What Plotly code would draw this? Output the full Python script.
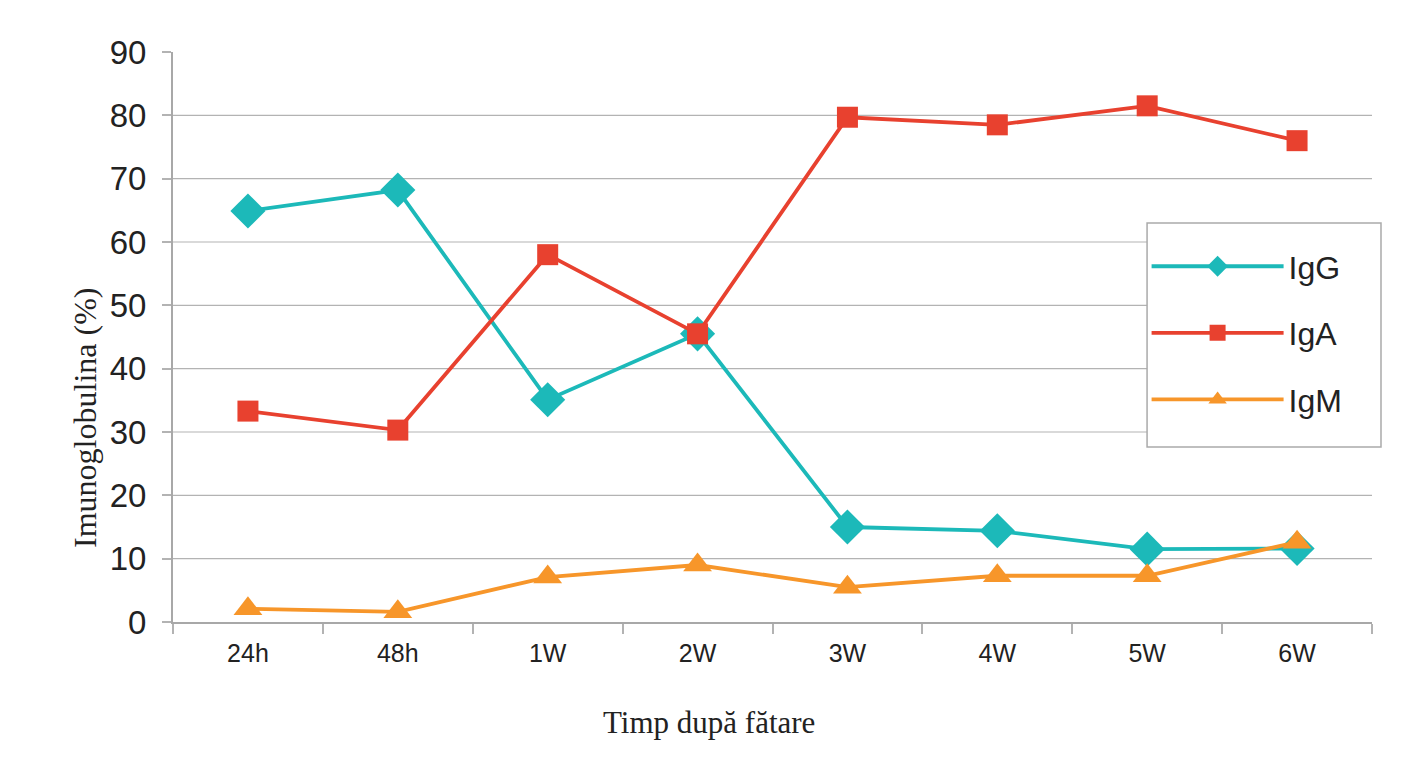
import plotly.graph_objects as go

categories = ["24h", "48h", "1W", "2W", "3W", "4W", "5W", "6W"]
igg = [64.9, 68.2, 35.1, 45.5, 15.0, 14.4, 11.5, 11.6]
iga = [33.3, 30.3, 58.0, 45.5, 79.7, 78.5, 81.5, 76.0]
igm = [2.1, 1.6, 7.1, 9.0, 5.5, 7.3, 7.3, 12.6]
y_ticks = [0, 10, 20, 30, 40, 50, 60, 70, 80, 90]
grid_values = [10, 20, 30, 40, 50, 60, 70, 80]

series = [
    ("IgG", igg, "#1cb9b9", "diamond", 27),
    ("IgA", iga, "#e8412f", "square", 21),
    ("IgM", igm, "#f7962a", "triangle-up", 25),
]

fig = go.Figure()
for name, vals, color, symbol, size in series:
    fig.add_trace(go.Scatter(
        x=categories, y=vals, name=name, mode="lines+markers", legendgroup=name,
        line=dict(color=color, width=3.8),
        marker=dict(symbol=symbol, size=size, color=color, line=dict(width=0)),
    ))

shapes = []
for g in grid_values:
    shapes.append(dict(type="line", xref="paper", yref="y", x0=0, x1=1, y0=g, y1=g,
                       line=dict(color="#b3b3b3", width=1.2), layer="below"))
# legend frame
shapes.append(dict(type="rect", xref="paper", yref="paper", x0=0.8124, x1=1.0075,
                   y0=0.307, y1=0.700, fillcolor="white",
                   line=dict(color="#aaaaaa", width=1.5), layer="above"))

tick_font = "Liberation Sans, Arial"
title_font = dict(family="Liberation Serif", size=31, color="#222222")

fig.update_layout(
    width=1412, height=766,
    margin=dict(l=165, r=48, t=44, b=152),
    paper_bgcolor="white", plot_bgcolor="white",
    shapes=shapes,
    showlegend=True,
    legend=dict(
        x=0.812, y=0.672, xanchor="left", yanchor="top",
        borderwidth=0, bgcolor="rgba(0,0,0,0)",
        font=dict(family=tick_font, size=32, color="#222222"),
        itemwidth=132, tracegroupgap=22,
    ),
    annotations=[
        dict(text="Timp după fătare", xref="paper", yref="paper", x=0.447, y=-0.177,
             xanchor="center", yanchor="middle", showarrow=False, font=title_font),
        dict(text="Imunoglobulina (%)", xref="paper", yref="paper", x=-0.0734, y=0.358,
             xanchor="center", yanchor="middle", showarrow=False, textangle=-90,
             font=dict(family="Liberation Serif", size=32, color="#222222")),
    ],
    xaxis=dict(
        type="category", range=[-0.5, 7.5],
        tickson="boundaries", ticks="outside", ticklen=10, tickcolor="#b3b3b3", tickwidth=1.5,
        showline=True, linecolor="#a8a8a8", linewidth=2,
        showgrid=False, zeroline=False, ticklabelstandoff=8,
        tickfont=dict(family=tick_font, size=25, color="#222222"),
    ),
    yaxis=dict(
        range=[0, 90], tickvals=y_ticks,
        ticks="outside", ticklen=9, tickcolor="#b3b3b3", tickwidth=1.5,
        showline=True, linecolor="#a8a8a8", linewidth=2,
        showgrid=False, zeroline=False, ticklabelstandoff=9,
        tickfont=dict(family=tick_font, size=33, color="#222222"),
    ),
)

fig.write_html("out.html")
